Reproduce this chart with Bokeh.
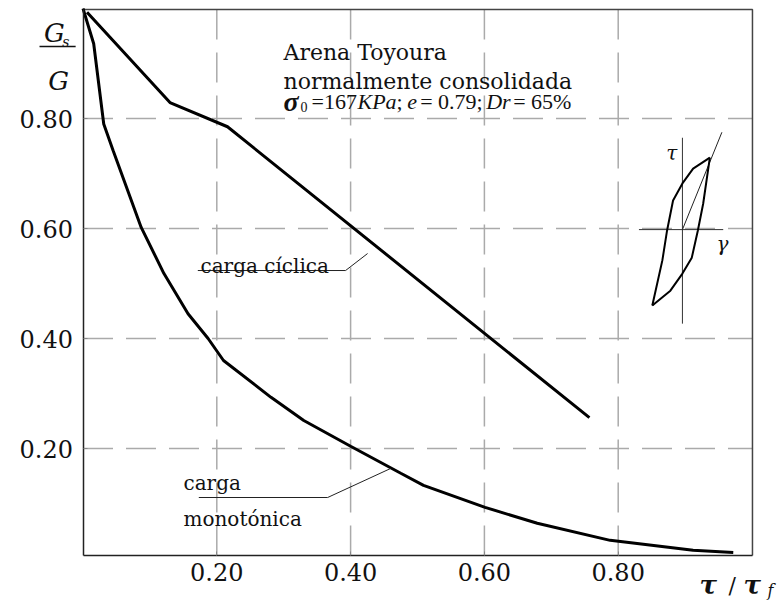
from bokeh.plotting import figure
from bokeh.models import Range1d, Label, FixedTicker, NumeralTickFormatter
from bokeh.embed import file_html
from bokeh.resources import INLINE

# ---- data ----
cyc_x = [0.006, 0.130, 0.216, 0.757]
cyc_y = [0.993, 0.829, 0.785, 0.256]

mono_x = [0.0, 0.016, 0.031, 0.045, 0.087, 0.121, 0.157, 0.187, 0.210, 0.281,
          0.33, 0.40, 0.475, 0.509, 0.601, 0.679, 0.788, 0.912, 0.972]
mono_y = [1.0, 0.936, 0.79, 0.742, 0.602, 0.518, 0.445, 0.40, 0.36, 0.293,
          0.251, 0.204, 0.155, 0.133, 0.093, 0.064, 0.033, 0.015, 0.011]

x_ticks = [0.2, 0.4, 0.6, 0.8]
y_ticks = [0.2, 0.4, 0.6, 0.8]

# inset (hysteresis loop sketch)
loop_up_x = [0.851, 0.866, 0.873, 0.882, 0.896, 0.912, 0.937]
loop_up_y = [0.460, 0.542, 0.596, 0.651, 0.682, 0.709, 0.729]
loop_dn_x = [0.937, 0.927, 0.919, 0.910, 0.896, 0.878, 0.851]
loop_dn_y = [0.729, 0.645, 0.596, 0.547, 0.518, 0.487, 0.460]
skel_x = [0.896, 0.955]
skel_y = [0.598, 0.775]
tau_ax_x = [0.896, 0.896]
tau_ax_y = [0.765, 0.427]
gam_ax_x = [0.831, 0.957]
gam_ax_y = [0.598, 0.598]

# leader lines
lead_cyc_x = [0.1716, 0.3925, 0.4254]
lead_cyc_y = [0.5236, 0.5236, 0.5545]
lead_mono_x = [0.1731, 0.3657, 0.4597]
lead_mono_y = [0.1109, 0.1109, 0.1636]

# box limits of the plotting area
X0, X1 = 0.0, 1.0007
Y0, Y1 = 0.0055, 0.9982

SERIF = "DejaVu Serif"
TIMES = "Liberation Serif"

W, H = 781, 603
p = figure(width=W, height=H,
           x_range=Range1d(-82.5 / 669, (W - 82.5) / 669),
           y_range=Range1d((558 - H) / 550, 558 / 550),
           output_backend="svg", toolbar_location=None,
           min_border_left=0, min_border_right=0, min_border_top=0, min_border_bottom=0)

p.outline_line_color = None
p.background_fill_color = "white"
p.border_fill_color = "white"

p.xaxis.fixed_location = Y0
p.yaxis.fixed_location = X0
p.xaxis.bounds = (X0, X1)
p.yaxis.bounds = (Y0, Y1)

for ax in (p.xaxis[0], p.yaxis[0]):
    ax.axis_line_color = "#222222"
    ax.axis_line_width = 1.5
    ax.major_tick_in = 4
    ax.major_tick_out = 0
    ax.major_tick_line_color = "#888888"
    ax.minor_tick_line_color = None
    ax.major_label_text_font = SERIF
    ax.major_label_text_font_size = "24px"
    ax.major_label_text_color = "#111111"
    ax.formatter = NumeralTickFormatter(format="0.00")

p.xaxis.ticker = FixedTicker(ticks=x_ticks)
p.yaxis.ticker = FixedTicker(ticks=y_ticks)
p.xaxis.major_label_standoff = 8
p.yaxis.major_label_standoff = 10

# dashed grid, limited to the plot box
p.xgrid.visible = False
p.ygrid.visible = False
p.segment(x0=x_ticks, y0=[Y0] * len(x_ticks), x1=x_ticks, y1=[Y1] * len(x_ticks),
          line_color="#aaaaaa", line_width=1.5, line_dash="30 13")
p.segment(x0=[X0] * len(y_ticks), y0=y_ticks, x1=[X1] * len(y_ticks), y1=y_ticks,
          line_color="#aaaaaa", line_width=1.5, line_dash="30 13")

# top and right border of the plot box
p.line([X0, X1, X1], [Y1, Y1, Y0], line_color="#444444", line_width=1.5)

# curves
p.line(cyc_x, cyc_y, line_color="black", line_width=3)
p.line(mono_x, mono_y, line_color="black", line_width=3)

# leaders
p.line(lead_cyc_x, lead_cyc_y, line_color="#222222", line_width=1)
p.line(lead_mono_x, lead_mono_y, line_color="#222222", line_width=1)

# inset
p.line(tau_ax_x, tau_ax_y, line_color="#333333", line_width=1)
p.line(gam_ax_x, gam_ax_y, line_color="#333333", line_width=1)
p.line(skel_x, skel_y, line_color="#222222", line_width=1)
p.line(loop_up_x, loop_up_y, line_color="black", line_width=2)
p.line(loop_dn_x, loop_dn_y, line_color="black", line_width=2)


def lab(x, y, t, size, style="normal", align="left", font=SERIF):
    p.add_layout(Label(x=x, y=y, text=t, text_font=font, text_font_size=size,
                       text_font_style=style, text_align=align,
                       text_baseline="alphabetic", text_color="#111111"))


lab(0.2997, 0.920, "Arena Toyoura", "22px")
lab(0.2997, 0.8673, "normalmente consolidada", "22px")

# sigma line
lab(0.2997, 0.8309, "σ", "28px", "bold italic", font=TIMES)
lab(0.3251, 0.8218, "0", "14px", font=TIMES)
lab(0.3416, 0.8309, "=167", "22px", font=TIMES)
lab(0.4103, 0.8309, "KPa", "22px", "italic", font=TIMES)
lab(0.4686, 0.8309, ";", "22px", font=TIMES)
lab(0.4846, 0.8309, "e", "22px", "italic", font=TIMES)
lab(0.5040, 0.8309, "= 0.79;", "22px", font=TIMES)
lab(0.6027, 0.8309, "Dr", "22px", "italic", font=TIMES)
lab(0.6430, 0.8309, "= 65%", "22px", font=TIMES)

lab(0.1756, 0.5327, "carga cíclica", "20px")
lab(0.1502, 0.1364, "carga", "20px")
lab(0.1502, 0.0727, "monotónica", "20px")

lab(0.872, 0.738, "τ", "20px", "italic")
lab(0.947, 0.5727, "γ", "20px", "italic")

# y-axis title: Gs / G
gbar_x = [-0.065, -0.011]
gbar_y = [0.931, 0.931]
lab(-0.0426, 0.956, "G", "26px", "italic", "center")
lab(-0.031, 0.940, "s", "14px", "italic")
p.line(gbar_x, gbar_y, line_color="#111111", line_width=1.5)
lab(-0.0366, 0.869, "G", "26px", "italic", "center")

# x-axis title: tau / tau_f
lab(0.9215, -0.049, "τ", "26px", "bold italic")
lab(0.965, -0.049, "/", "22px")
lab(0.9873, -0.049, "τ", "26px", "bold italic")
lab(1.0230, -0.0590, "f", "16px", "italic")

open("out.html", "w").write(file_html(p, INLINE))
